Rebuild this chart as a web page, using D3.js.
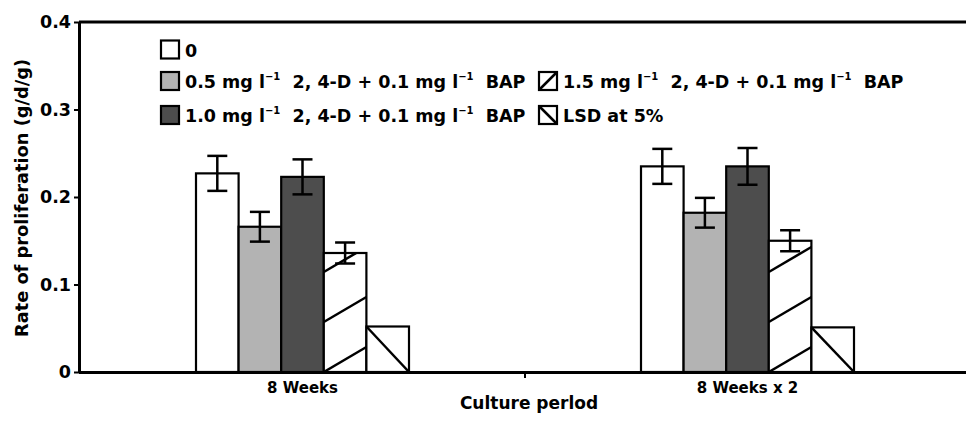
<!DOCTYPE html>
<html><head><meta charset="utf-8">
<script src="https://cdn.jsdelivr.net/npm/d3@7"></script>
<style>
body{margin:0;background:#fff;}
text{font-family:"DejaVu Sans",sans-serif;font-weight:bold;fill:#000;}
</style></head><body>
<svg id="c" width="966" height="424"></svg>
<script>
const categories = ["8 Weeks", "8 Weeks x 2"];
const seriesNames = ["0", "0.5", "1.0", "1.5", "LSD"];
const values = [
  [0.227, 0.166, 0.223, 0.136, 0.052],
  [0.235, 0.182, 0.235, 0.150, 0.051]
];
const errors = [
  [0.020, 0.017, 0.020, 0.012, null],
  [0.020, 0.017, 0.021, 0.012, null]
];
const yTicks = [0, 0.1, 0.2, 0.3, 0.4];
const yTickLabels = ["0", "0.1", "0.2", "0.3", "0.4"];
const fills = ["#ffffff", "#b3b3b3", "#4d4d4d", "hatch", "lsd"];

const FONT = "'DejaVu Sans',sans-serif";
const svg = d3.select("#c");
const mLeft = 79, mRight = 966, mTop = 22, mBottom = 372;
const y = d3.scaleLinear().domain([0, 0.4]).range([mBottom, mTop]);
const x = d3.scaleBand().domain(categories).range([80, 970]).paddingInner(0).paddingOuter(0);
const groupW = 213;
const xs = d3.scaleBand().domain(seriesNames).range([0, groupW]).padding(0);

svg.append("line").attr("x1", mLeft).attr("x2", mRight).attr("y1", mTop).attr("y2", mTop).attr("stroke", "#000").attr("stroke-width", 3);

const defs = svg.append("defs");
categories.forEach((c, gi) => {
  const gx = x(c) + x.bandwidth() / 2 - groupW / 2;
  seriesNames.forEach((s, si) => {
    const v = values[gi][si];
    const bx = gx + xs(s), bw = xs.bandwidth();
    const by = y(v), bh = y(0) - y(v);
    const f = fills[si];
    const id = "cl" + gi + si;
    defs.append("clipPath").attr("id", id).append("rect").attr("x", bx).attr("y", by).attr("width", bw).attr("height", bh);
    svg.append("rect").attr("x", bx).attr("y", by).attr("width", bw).attr("height", bh)
      .attr("fill", (f === "hatch" || f === "lsd") ? "#fff" : f);
    if (f === "hatch") {
      const g = svg.append("g").attr("clip-path", "url(#" + id + ")");
      for (let k = 0; k < 6; k++) {
        const y0 = y(0) - k * 50;
        g.append("line").attr("x1", bx).attr("y1", y0).attr("x2", bx + bw).attr("y2", y0 - 25)
          .attr("stroke", "#000").attr("stroke-width", 2.5);
      }
    }
    if (f === "lsd") {
      svg.append("line").attr("x1", bx).attr("y1", by).attr("x2", bx + bw).attr("y2", y(0))
        .attr("stroke", "#000").attr("stroke-width", 2.5);
    }
    svg.append("rect").attr("x", bx).attr("y", by).attr("width", bw).attr("height", bh)
      .attr("fill", "none").attr("stroke", "#000").attr("stroke-width", 2.2);
    const e = errors[gi][si];
    if (e != null) {
      const cx = bx + bw / 2;
      const eg = svg.append("g").attr("stroke", "#000").attr("stroke-width", 2.5);
      eg.append("line").attr("x1", cx).attr("x2", cx).attr("y1", y(v + e)).attr("y2", y(v - e));
      eg.append("line").attr("x1", cx - 10).attr("x2", cx + 10).attr("y1", y(v + e)).attr("y2", y(v + e));
      eg.append("line").attr("x1", cx - 10).attr("x2", cx + 10).attr("y1", y(v - e)).attr("y2", y(v - e));
    }
  });
});

const ya = svg.append("g").attr("transform", `translate(${mLeft},0)`)
  .call(d3.axisLeft(y).tickValues(yTicks).tickFormat((d, i) => yTickLabels[i]).tickSize(5).tickSizeOuter(0));
ya.select(".domain").attr("stroke-width", 3);
ya.selectAll(".tick line").attr("stroke-width", 2);
ya.selectAll("text").attr("font-size", 17.5).attr("x", -8).style("font-family", FONT).style("font-weight", "bold");

const xa = svg.append("g").attr("transform", `translate(0,${mBottom})`)
  .call(d3.axisBottom(x).tickSize(0).tickSizeOuter(0));
xa.select(".domain").attr("d", `M${mLeft},0.5H${mRight}`).attr("stroke-width", 3);
xa.selectAll("text").attr("font-size", 15).attr("dy", "0.95em").attr("y", 7)
  .style("font-family", FONT).style("font-weight", "bold");
xa.append("line").attr("x1", x(categories[1])).attr("x2", x(categories[1])).attr("y1", 0).attr("y2", 6).attr("stroke", "#000").attr("stroke-width", 2);

svg.append("text").attr("x", 529).attr("y", 409).attr("text-anchor", "middle").attr("font-size", 17).text("Culture perlod");
svg.append("text").attr("transform", `translate(28,${(mTop + mBottom) / 2 + 1}) rotate(-90)`).attr("text-anchor", "middle").attr("font-size", 17.8).text("Rate of proliferation (g/d/g)");

const legend = [
  {c: 0, r: 0, f: "#ffffff", t: ["0"]},
  {c: 0, r: 1, f: "#b3b3b3", t: ["0.5 mg l", "−1", "  2, 4-D + 0.1 mg l", "−1", "  BAP"]},
  {c: 0, r: 2, f: "#4d4d4d", t: ["1.0 mg l", "−1", "  2, 4-D + 0.1 mg l", "−1", "  BAP"]},
  {c: 1, r: 1, f: "hatch", t: ["1.5 mg l", "−1", "  2, 4-D + 0.1 mg l", "−1", "  BAP"]},
  {c: 1, r: 2, f: "lsd", t: ["LSD at 5%"]}
];
const colX = [161, 539], rowY = [49.5, 81, 115];
legend.forEach(d => {
  const lx = colX[d.c], ly = rowY[d.r];
  const g = svg.append("g");
  g.append("rect").attr("x", lx).attr("y", ly - 9).attr("width", 18).attr("height", 18)
    .attr("fill", (d.f === "hatch" || d.f === "lsd") ? "#fff" : d.f).attr("stroke", "#000").attr("stroke-width", 2.2);
  if (d.f === "hatch") g.append("line").attr("x1", lx).attr("y1", ly + 9).attr("x2", lx + 18).attr("y2", ly - 9).attr("stroke", "#000").attr("stroke-width", 2.5);
  if (d.f === "lsd") g.append("line").attr("x1", lx).attr("y1", ly - 9).attr("x2", lx + 18).attr("y2", ly + 9).attr("stroke", "#000").attr("stroke-width", 2.5);
  const t = g.append("text").attr("x", lx + 24).attr("y", ly + 7).attr("font-size", 17.5).style("white-space", "pre");
  d.t.forEach((s, i) => {
    if (i % 2 === 1) t.append("tspan").attr("font-size", 10).attr("dy", -8).text(s);
    else t.append("tspan").attr("dy", i === 0 ? 0 : 8).text(s);
  });
});
</script></body></html>
